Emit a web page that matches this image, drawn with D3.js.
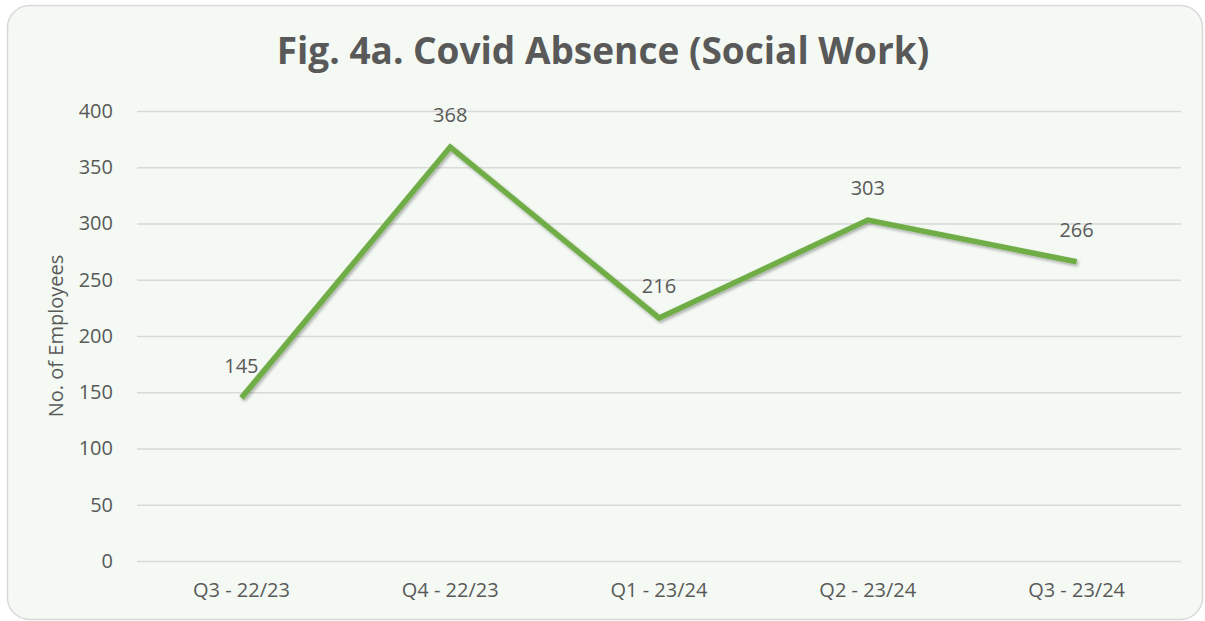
<!DOCTYPE html>
<html>
<head>
<meta charset="utf-8">
<script src="https://cdn.jsdelivr.net/npm/d3@7"></script>
<style>
  body { margin: 0; background: #fff; }
  svg text { font-family: "Open Sans", "Liberation Sans", sans-serif; fill: #595959; }
</style>
</head>
<body>
<svg class="line-chart" width="1205" height="621"></svg>
<script>
const categories = ["Q3 - 22/23", "Q4 - 22/23", "Q1 - 23/24", "Q2 - 23/24", "Q3 - 23/24"];
const absences = [145, 368, 216, 303, 266];
const yTicks = [0, 50, 100, 150, 200, 250, 300, 350, 400];

function drawLineChart() {
    const svg = d3.select("svg.line-chart");
    const margin = {top: 111, right: 24, bottom: 60, left: 137};
    const width = +svg.attr("width") - margin.left - margin.right;
    const height = +svg.attr("height") - margin.top - margin.bottom;

    const defs = svg.append("defs");
    const shadow = defs.append("filter").attr("id", "shadow")
        .attr("x", "-10%").attr("y", "-10%").attr("width", "120%").attr("height", "120%");
    shadow.append("feDropShadow")
        .attr("dx", 1.5).attr("dy", 2).attr("stdDeviation", 1.5)
        .attr("flood-color", "#000").attr("flood-opacity", 0.3);

    // card background
    svg.append("rect")
        .attr("x", 7.5).attr("y", 5.5)
        .attr("width", 1195).attr("height", 614)
        .attr("rx", 22)
        .attr("fill", "#f4f9f4")
        .attr("stroke", "#d9d9d9")
        .attr("stroke-width", 1.5);

    svg.append("text")
        .attr("x", 603).attr("y", 64)
        .attr("text-anchor", "middle")
        .style("font-size", "37px")
        .style("font-weight", "bold")
        .text("Fig. 4a. Covid Absence (Social Work)");

    const x = d3.scaleBand().domain(categories).range([0, width]);
    const y = d3.scaleLinear().domain([0, 400]).range([height, 0]);

    const g = svg.append("g")
        .attr("transform", `translate(${margin.left}, ${margin.top})`);

    const yAxis = g.append("g")
        .call(d3.axisLeft(y).tickValues(yTicks).tickSize(-width).tickPadding(24));
    yAxis.select(".domain").remove();
    yAxis.selectAll(".tick line").attr("stroke", "#d9d9d9").attr("stroke-width", 1.3);
    yAxis.selectAll(".tick text").style("font-size", "20px").attr("fill", "#595959");

    const xAxis = g.append("g")
        .attr("transform", `translate(0, ${height})`)
        .call(d3.axisBottom(x).tickSize(0).tickPadding(22));
    xAxis.select(".domain").remove();
    xAxis.selectAll(".tick text").style("font-size", "20px").attr("fill", "#595959");

    svg.append("text")
        .attr("transform", "rotate(-90)")
        .attr("x", -336).attr("y", 63)
        .attr("text-anchor", "middle")
        .style("font-size", "20px")
        .text("No. of Employees");

    const cx = (d, i) => x(categories[i]) + x.bandwidth() / 2;

    const line = d3.line()
        .x(cx)
        .y(d => y(d));

    g.append("path")
        .datum(absences)
        .attr("fill", "none")
        .attr("stroke", "#70ad47")
        .attr("stroke-width", 5.5)
        .attr("stroke-linejoin", "miter")
        .attr("filter", "url(#shadow)")
        .attr("d", line);

    g.selectAll(".label")
        .data(absences)
        .enter().append("text")
            .attr("class", "label")
            .attr("x", cx)
            .attr("y", d => y(d) - 25)
            .attr("text-anchor", "middle")
            .style("font-size", "20px")
            .text(d => d);
}

drawLineChart();
</script>
</body>
</html>
